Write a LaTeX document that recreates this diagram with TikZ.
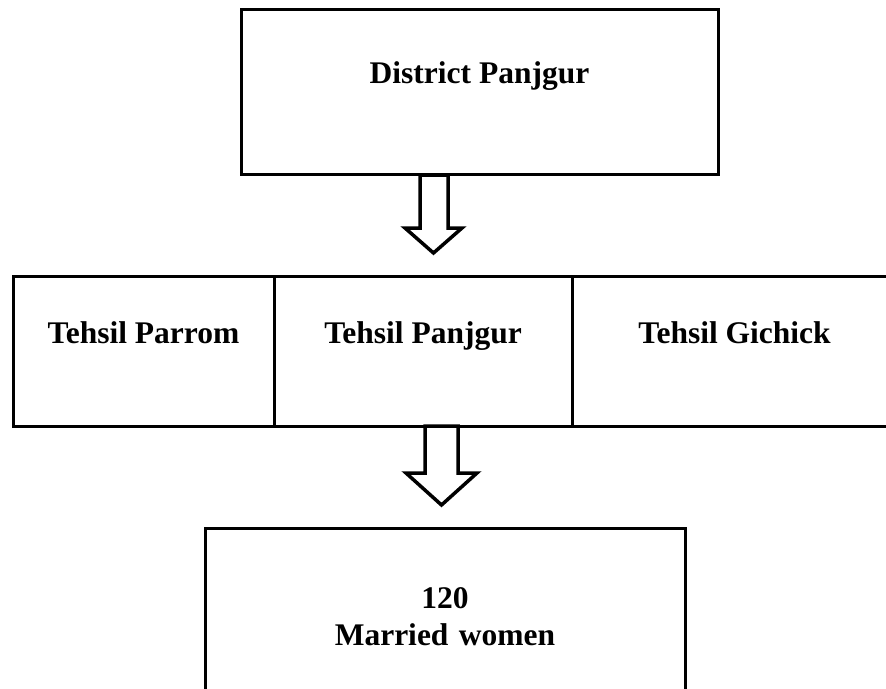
\documentclass[tikz,border=0pt]{standalone}
\usepackage{fontspec}
\setmainfont{Liberation Serif}
\usetikzlibrary{positioning}

\begin{document}
\begin{tikzpicture}[%
	x=1pt, y=-1pt,
	every node/.style = {shape=rectangle, draw, line width=3pt, inner sep=0pt, outer sep=0pt,
		align=center, font=\fontsize{31.5}{37}\selectfont\bfseries},
	district/.style = {minimum width=477pt, text height=74pt, text depth=91pt},
	tehsil/.style = {text height=67pt, text depth=83pt},
	sample/.style = {text width=480pt, text height=80pt, text depth=92pt},
	hollow/.style = {draw, fill=white, line width=3.5pt, miter limit=10}
	]
  \useasboundingbox (0,0) rectangle (886,688);
  \node [district, anchor=base] (dist) at (479.5,83) {District Panjgur};
  \node [tehsil, minimum width=261pt, anchor=base] (parrom) at (143.5,343) {Tehsil Parrom};
  \node [tehsil, minimum width=298pt, right=0pt of parrom] (panjgur) {Tehsil Panjgur};
  \node [tehsil, minimum width=325pt, right=0pt of panjgur] (gichick) {Tehsil Gichick};
  \node [sample, anchor=base] (women) at (445,608) {120\\Married women};
  % block arrows
  \draw [hollow] (420,175) -- (420,228) -- (405,228) -- (433.5,253) -- (462,228)
  	-- (448,228) -- (448,175) -- cycle;
  \draw [hollow] (425,426) -- (425,473) -- (406,473) -- (441.5,505) -- (477,473)
  	-- (458,473) -- (458,426) -- cycle;
\end{tikzpicture}
\end{document}
